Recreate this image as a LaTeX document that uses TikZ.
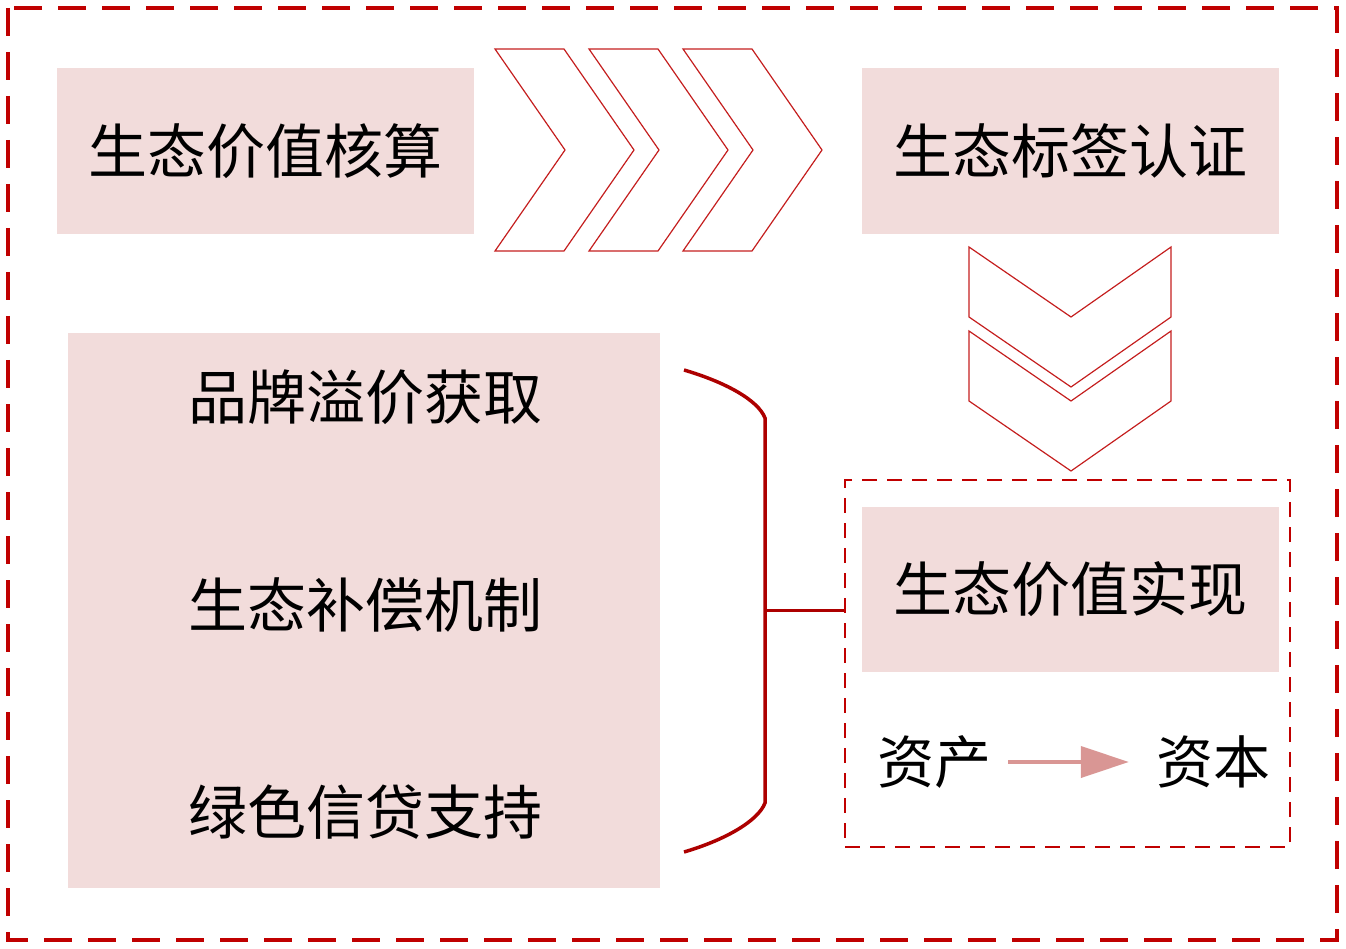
\documentclass[tikz,border=0pt]{standalone}
\usepackage{fontspec}
\setmainfont{Noto Sans CJK SC}
\usetikzlibrary{arrows.meta}
\definecolor{dred}{RGB}{192,0,0}
\definecolor{pinkfill}{RGB}{242,220,219}
\definecolor{arrowpink}{RGB}{217,150,148}
\definecolor{chevred}{RGB}{196,30,30}
\begin{document}
\begin{tikzpicture}[x=1pt,y=-1pt,
  box/.style={fill=pinkfill, draw=none, inner sep=0pt, font=\fontsize{59}{62}\selectfont},
  plain/.style={inner sep=0pt, font=\fontsize{59}{62}\selectfont},
  outerframe/.style={draw=dred, line width=3.5pt, dash pattern=on 28pt off 16pt},
  innerframe/.style={draw=dred, line width=2.5pt, dash pattern=on 15pt off 10pt, inner sep=0pt},
  chevron/.style={draw=chevred, line width=1.2pt, line join=miter},
  brace/.style={draw=dred!90!black, line width=3.5pt},
  conn/.style={draw=arrowpink, line width=4pt, -{Triangle[length=48pt,width=31pt]}}]
\useasboundingbox (0,0) rectangle (1346,949);
% outer frame
\draw[outerframe] (8,8) rectangle (1337,940);
% top boxes
\node[box, minimum width=417pt, minimum height=166pt] (b1) at (265.5,151) {生态价值核算};
\node[box, minimum width=417pt, minimum height=166pt] (b2) at (1070.5,151) {生态标签认证};
% big box
\node[box, minimum width=592pt, minimum height=555pt] (b3) at (364,610.5) {};
\node[plain] (t1) at (365,397) {品牌溢价获取};
\node[plain] (t2) at (365,605) {生态补偿机制};
\node[plain] (t3) at (365,812) {绿色信贷支持};
% inner dashed frame
\node[innerframe, minimum width=445pt, minimum height=367pt] (f4) at (1067.5,663.5) {};
\node[box, minimum width=417pt, minimum height=165pt] (b4) at (1070.5,589.5) {生态价值实现};
\node[plain, font=\fontsize{57}{60}\selectfont] (za) at (934,762) {资产};
\node[plain, font=\fontsize{57}{60}\selectfont] (zb) at (1213,762) {资本};
\draw[conn, shorten <=17pt, shorten >=27pt] (za.east) -- (zb.west);
% right chevrons
\foreach \dx in {0,94,188}{
  \draw[chevron] (495+\dx,49) -- (564+\dx,49) -- (634+\dx,150) -- (564+\dx,251) -- (495+\dx,251) -- (565+\dx,150) -- cycle;
}
% down chevrons
\foreach \dy in {0,84}{
  \draw[chevron] (969,247+\dy) -- (1071,317+\dy) -- (1171,247+\dy) -- (1171,317+\dy) -- (1071,387+\dy) -- (969,317+\dy) -- cycle;
}
% brace
\draw[brace] (684,370) .. controls (725,382) and (758,400) .. (765,418) -- (765,803) .. controls (758,821) and (725,840) .. (684,852);
\coordinate (bm) at (765,610);
\draw[brace, line width=3pt] (bm) -- (bm -| f4.west);
\end{tikzpicture}
\end{document}
